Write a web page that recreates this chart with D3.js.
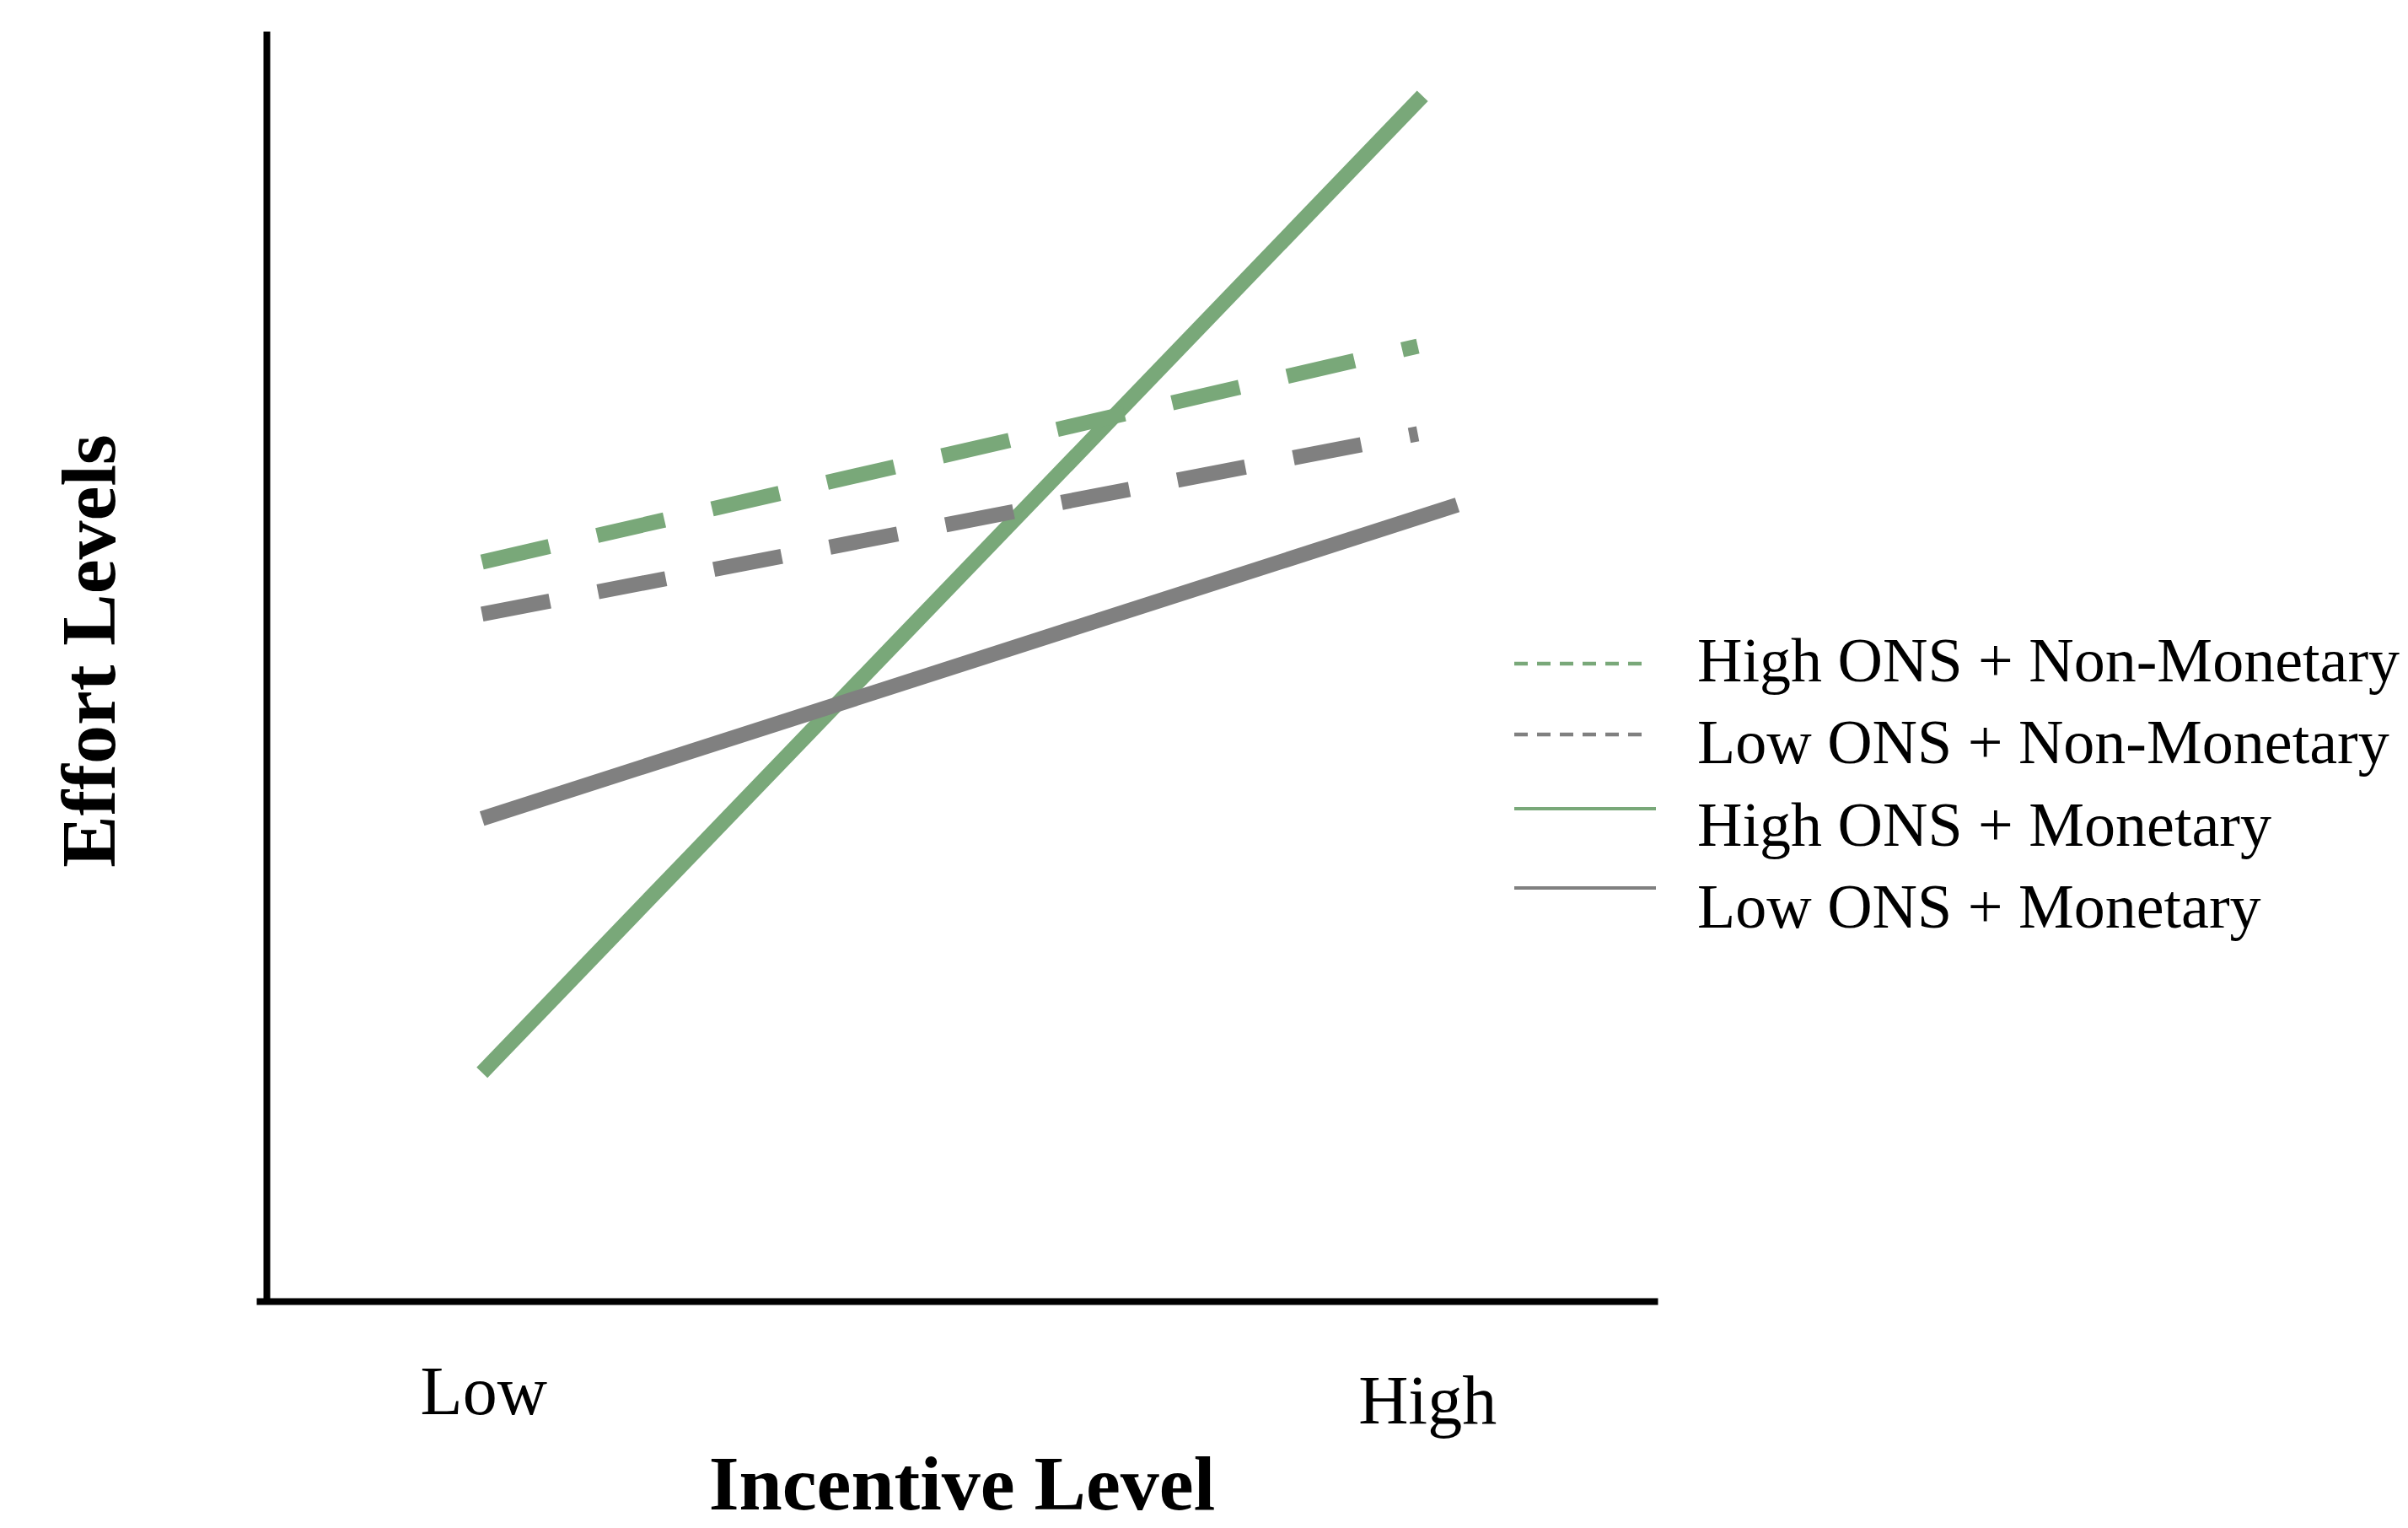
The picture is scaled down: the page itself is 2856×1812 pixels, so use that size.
<!DOCTYPE html>
<html>
<head>
<meta charset="utf-8">
<script src="https://cdn.jsdelivr.net/npm/d3@7"></script>
<style>
  html, body { margin: 0; padding: 0; background: #ffffff; }
  svg { display: block; }
  text { font-family: "Liberation Serif", "Times New Roman", Times, serif; fill: #000; }
</style>
</head>
<body>
<svg id="chart" width="2856" height="1812"></svg>
<script>
// ---- data ----
const seriesNames = ["High ONS + Non-Monetary", "Low ONS + Non-Monetary", "High ONS + Monetary", "Low ONS + Monetary"];
const seriesColors = ["#79a879", "#808080", "#79a879", "#808080"];
const seriesDashed = [true, true, false, false];
// x: 0 = Low incentive, 1 = High incentive (line ends)
const xStart = [0, 0, 0, 0];
const xEnd = [0.995, 0.995, 1.0, 1.037];
// effort level (0-100 relative scale)
const yStart = [58.2, 54.1, 18.0, 38.0];
const yEnd = [75.2, 68.3, 94.9, 62.7];
const tickValues = [0, 1];
const tickLabels = ["Low", "High"];
const xTitle = "Incentive Level";
const yTitle = "Effort Levels";

// ---- drawing ----
const svg = d3.select("#chart");
const x = d3.scaleLinear().domain([-0.24, 1.25]).range([304, 1966]);
const y = d3.scaleLinear().domain([0, 100]).range([1543, 37]);

// axes (plain lines, no ticks)
const gx = svg.append("g").attr("transform", `translate(0,${y(0)})`)
  .call(d3.axisBottom(x).tickValues([]).tickSizeOuter(0));
gx.select(".domain").attr("stroke", "#000").attr("stroke-width", 8);

const gy = svg.append("g").attr("transform", `translate(316,0)`)
  .call(d3.axisLeft(y).tickValues([]).tickSizeOuter(0));
gy.select(".domain").attr("stroke", "#000").attr("stroke-width", 8);

// tick labels
const tickDy = [1677, 1688];
svg.append("g").selectAll("text").data(tickValues).join("text")
  .attr("x", d => x(d) + (d === 1 ? 6 : 2))
  .attr("y", (d, i) => tickDy[i])
  .attr("text-anchor", "middle")
  .attr("font-size", 82)
  .text((d, i) => tickLabels[i]);

// axis titles
svg.append("text")
  .attr("x", 1141).attr("y", 1790)
  .attr("text-anchor", "middle")
  .attr("font-size", 92).attr("font-weight", "bold")
  .text(xTitle);

svg.append("text")
  .attr("transform", "translate(136,772) rotate(-90)")
  .attr("text-anchor", "middle")
  .attr("font-size", 92).attr("font-weight", "bold")
  .text(yTitle);

// series lines
const line = d3.line().x(d => x(d[0])).y(d => y(d[1]));
const series = seriesNames.map((n, i) => ({
  name: n, color: seriesColors[i], dashed: seriesDashed[i],
  pts: [[xStart[i], yStart[i]], [xEnd[i], yEnd[i]]]
}));
// draw solid first, then dashed on top in the original order
const drawOrder = [2, 3, 0, 1];
svg.append("g").selectAll("path").data(drawOrder.map(i => series[i])).join("path")
  .attr("d", d => line(d.pts))
  .attr("fill", "none")
  .attr("stroke", d => d.color)
  .attr("stroke-width", 18)
  .attr("stroke-linecap", "butt")
  .attr("stroke-dasharray", d => d.dashed ? "82,58" : null);

// legend
const legX0 = 1796;
const legLineY = [787, 871, 959, 1053];
const legTextY = [808, 905, 1003, 1100];
const leg = svg.append("g");
series.forEach((s, i) => {
  leg.append("line")
    .attr("x1", legX0).attr("x2", s.dashed ? 1953 : 1964)
    .attr("y1", legLineY[i]).attr("y2", legLineY[i])
    .attr("stroke", s.color)
    .attr("stroke-width", s.dashed ? 4.5 : 4)
    .attr("stroke-dasharray", s.dashed ? "16,11" : null);
  leg.append("text")
    .attr("x", 2013).attr("y", legTextY[i])
    .attr("font-size", 74)
    .text(s.name);
});
</script>
</body>
</html>
